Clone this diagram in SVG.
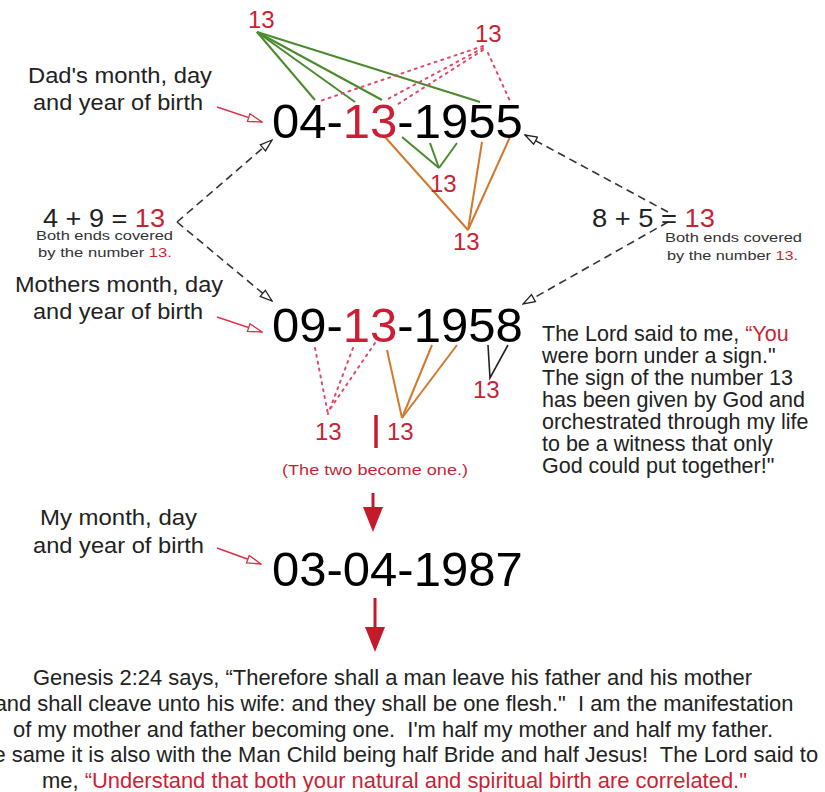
<svg xmlns="http://www.w3.org/2000/svg" width="825" height="792" viewBox="0 0 825 792">
<style>
text{font-family:"Liberation Sans",Arial,Helvetica,sans-serif;white-space:pre}
.big{font-size:49px;fill:#000}
.lbl{font-size:22px;fill:#222;text-anchor:middle}
.eq{font-size:26px;fill:#222}
.sm{font-size:13px;fill:#333;text-anchor:middle}
.r{fill:#cc1f36}
.n13{font-size:24px;fill:#cc1f36}
.para{font-size:21.5px;fill:#222}
.bot{font-size:21.9px;fill:#222;text-anchor:middle}
.green{stroke:#4a8a2c;stroke-width:2;fill:none}
.orange{stroke:#d2782f;stroke-width:2;fill:none}
.dot{stroke:#e04a68;stroke-width:2;stroke-dasharray:2 5;stroke-linecap:round;fill:none}
.dash{stroke:#333;stroke-width:1.6;stroke-dasharray:8 5;fill:none}
.redl{stroke:#d8334a;stroke-width:1.6;fill:none}
.blk{stroke:#222;stroke-width:1.6;fill:none}
</style>
<defs>
<marker id="openBlack" viewBox="0 0 14 10" refX="13" refY="5" markerWidth="14" markerHeight="10" markerUnits="userSpaceOnUse" orient="auto"><path d="M1,1 L13,5 L1,9 Z" fill="#fff" stroke="#222" stroke-width="1.3"/></marker>
<marker id="openRed" viewBox="0 0 16 10" refX="15" refY="5" markerWidth="16" markerHeight="10" markerUnits="userSpaceOnUse" orient="auto"><path d="M1,1 L15,5 L1,9 Z" fill="#fff" stroke="#d8334a" stroke-width="1.3"/></marker>
</defs>
<rect width="825" height="792" fill="#fff"/>

<g id="connectors">
<!-- green top -->
<line class="green" x1="257" y1="32" x2="315" y2="100"/>
<line class="green" x1="257" y1="32" x2="355" y2="102"/>
<line class="green" x1="257" y1="32" x2="382" y2="100"/>
<line class="green" x1="257" y1="32" x2="480" y2="102"/>
<!-- dotted top -->
<line class="dot" x1="483" y1="46" x2="320" y2="101"/>
<line class="dot" x1="483" y1="48" x2="386" y2="100"/>
<line class="dot" x1="483" y1="50" x2="398" y2="104"/>
<line class="dot" x1="488" y1="53" x2="510" y2="101"/>
<!-- green lower -->
<line class="green" x1="402" y1="137" x2="439" y2="168"/>
<line class="green" x1="430" y1="143" x2="439" y2="168"/>
<line class="green" x1="457" y1="143" x2="439" y2="168"/>
<!-- orange dad -->
<line class="orange" x1="385" y1="137" x2="468" y2="230"/>
<line class="orange" x1="482" y1="142" x2="468" y2="230"/>
<line class="orange" x1="510" y1="137" x2="468" y2="230"/>
<!-- mother dotted -->
<line class="dot" x1="315" y1="348" x2="328" y2="414"/>
<line class="dot" x1="353" y1="348" x2="328" y2="414"/>
<line class="dot" x1="375" y1="343" x2="328" y2="412"/>
<!-- mother orange -->
<line class="orange" x1="387" y1="350" x2="402" y2="418"/>
<line class="orange" x1="432" y1="345" x2="402" y2="418"/>
<line class="orange" x1="457" y1="345" x2="402" y2="418"/>
<!-- mother black -->
<polyline class="blk" points="488,345 490,378 508,345"/>
<!-- red bar -->
<line x1="376" y1="415" x2="376" y2="448" stroke="#c41a2b" stroke-width="3.5"/>
<!-- dashed arrows -->
<line class="dash" x1="177" y1="222" x2="272" y2="140" marker-end="url(#openBlack)"/>
<line class="dash" x1="177" y1="222" x2="272" y2="301" marker-end="url(#openBlack)"/>
<line class="dash" x1="668" y1="212" x2="525" y2="135" marker-end="url(#openBlack)"/>
<line class="dash" x1="668" y1="222" x2="523" y2="304" marker-end="url(#openBlack)"/>
<!-- red label arrows -->
<line class="redl" x1="217" y1="107" x2="262" y2="122" marker-end="url(#openRed)"/>
<line class="redl" x1="217" y1="317" x2="262" y2="332" marker-end="url(#openRed)"/>
<line class="redl" x1="217" y1="548" x2="261" y2="564" marker-end="url(#openRed)"/>
<!-- down arrows -->
<line x1="373" y1="493" x2="373" y2="512" stroke="#c41a2b" stroke-width="3"/>
<polygon points="363,507 383,507 373,532" fill="#c41a2b"/>
<line x1="375" y1="598" x2="375" y2="632" stroke="#c41a2b" stroke-width="3"/>
<polygon points="365,627 385,627 375,652" fill="#c41a2b"/>
</g>

<g id="dad-label">
<text class="lbl" x="120" y="83" textLength="184" lengthAdjust="spacingAndGlyphs">Dad's month, day</text>
<text class="lbl" x="118" y="110" textLength="170" lengthAdjust="spacingAndGlyphs">and year of birth</text>
</g>
<g id="dad-date"><text class="big" x="272" y="138">04-<tspan class="r">13</tspan>-1955</text></g>
<g id="n13-top-left"><text class="n13" x="248" y="28">13</text></g>
<g id="n13-top-right"><text class="n13" x="475" y="42">13</text></g>
<g id="n13-green"><text class="n13" x="430" y="192">13</text></g>
<g id="n13-orange"><text class="n13" x="453" y="250">13</text></g>

<g id="left-sum">
<text class="eq" x="43" y="227" textLength="122" lengthAdjust="spacingAndGlyphs">4 + 9 = <tspan class="r">13</tspan></text>
<text class="sm" x="104.5" y="240" textLength="137" lengthAdjust="spacingAndGlyphs">Both ends covered</text>
<text class="sm" x="105" y="257" textLength="134" lengthAdjust="spacingAndGlyphs">by the number <tspan class="r">13.</tspan></text>
</g>
<g id="right-sum">
<text class="eq" x="592" y="227" textLength="123" lengthAdjust="spacingAndGlyphs">8 + 5 = <tspan class="r">13</tspan></text>
<text class="sm" x="733.5" y="242" textLength="137" lengthAdjust="spacingAndGlyphs">Both ends covered</text>
<text class="sm" x="732.5" y="260" textLength="131" lengthAdjust="spacingAndGlyphs">by the number <tspan class="r">13.</tspan></text>
</g>

<g id="mother-label">
<text class="lbl" x="119" y="292" textLength="208" lengthAdjust="spacingAndGlyphs">Mothers month, day</text>
<text class="lbl" x="118" y="319" textLength="170" lengthAdjust="spacingAndGlyphs">and year of birth</text>
</g>
<g id="mother-date"><text class="big" x="272" y="342">09-<tspan class="r">13</tspan>-1958</text></g>
<g id="n13-m-dotted"><text class="n13" x="315" y="440">13</text></g>
<g id="n13-m-orange"><text class="n13" x="387" y="440">13</text></g>
<g id="n13-m-black"><text class="n13" x="473" y="398">13</text></g>
<g id="two-become-one"><text x="375" y="475" font-size="15" fill="#cc1f36" text-anchor="middle" textLength="186" lengthAdjust="spacingAndGlyphs">(The two become one.)</text></g>

<g id="lord-note">
<text class="para" x="542" y="341">The Lord said to me, <tspan class="r">“You</tspan></text>
<text class="para r" x="542" y="363">were born under a sign."</text>
<text class="para" x="542" y="385">The sign of the number 13</text>
<text class="para" x="542" y="407">has been given by God and</text>
<text class="para" x="542" y="429">orchestrated through my life</text>
<text class="para" x="542" y="451">to be a witness that only</text>
<text class="para" x="542" y="473">God could put together!"</text>
</g>

<g id="my-label">
<text class="lbl" x="118.5" y="525" textLength="157" lengthAdjust="spacingAndGlyphs">My month, day</text>
<text class="lbl" x="118.5" y="553" textLength="171" lengthAdjust="spacingAndGlyphs">and year of birth</text>
</g>
<g id="my-date"><text class="big" x="272" y="586">03-04-1987</text></g>

<g id="genesis">
<text class="bot" x="392.5" y="685" textLength="719" lengthAdjust="spacingAndGlyphs">Genesis 2:24 says, “Therefore shall a man leave his father and his mother</text>
<text class="bot" x="394" y="711">and shall cleave unto his wife: and they shall be one flesh."  I am the manifestation</text>
<text class="bot" x="393" y="737" textLength="760" lengthAdjust="spacingAndGlyphs">of my mother and father becoming one.  I'm half my mother and half my father.</text>
<text class="bot" x="393" y="762">The same it is also with the Man Child being half Bride and half Jesus!  The Lord said to</text>
<text class="bot" x="394.5" y="788" textLength="705" lengthAdjust="spacingAndGlyphs">me, <tspan class="r">“Understand that both your natural and spiritual birth are correlated."</tspan></text>
</g>
</svg>
